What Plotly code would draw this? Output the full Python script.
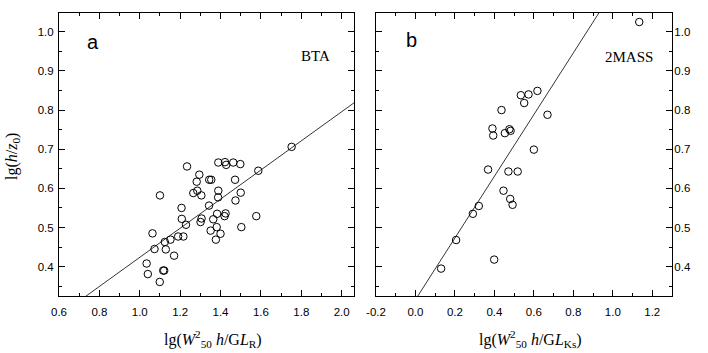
import plotly.graph_objects as go

# ---------------- data ----------------
# Panel a : BTA
bta_x = [1.752, 1.587, 1.234, 1.389, 1.422, 1.428, 1.463, 1.498, 1.295, 1.282,
         1.344, 1.354, 1.472, 1.100, 1.265, 1.285, 1.305, 1.389, 1.388, 1.500,
         1.474, 1.343, 1.207, 1.208, 1.306, 1.301, 1.364, 1.383, 1.420, 1.425,
         1.577, 1.229, 1.381, 1.503, 1.351, 1.400, 1.377, 1.063, 1.190, 1.216,
         1.152, 1.124, 1.073, 1.129, 1.170, 1.034, 1.040, 1.116, 1.121, 1.099]
bta_y = [0.706, 0.645, 0.656, 0.666, 0.667, 0.660, 0.666, 0.662, 0.635, 0.617,
         0.622, 0.622, 0.622, 0.582, 0.588, 0.594, 0.582, 0.594, 0.577, 0.589,
         0.569, 0.556, 0.550, 0.522, 0.523, 0.514, 0.521, 0.535, 0.529, 0.536,
         0.529, 0.507, 0.501, 0.501, 0.492, 0.484, 0.469, 0.485, 0.477, 0.477,
         0.469, 0.463, 0.445, 0.444, 0.428, 0.408, 0.381, 0.390, 0.390, 0.361]

# Panel b : 2MASS
mass_x = [1.134, 0.618, 0.534, 0.573, 0.551, 0.436, 0.669, 0.390, 0.394, 0.453,
          0.476, 0.482, 0.600, 0.368, 0.471, 0.518, 0.446, 0.480, 0.492, 0.321,
          0.291, 0.206, 0.399, 0.130]
mass_y = [1.025, 0.849, 0.838, 0.840, 0.818, 0.800, 0.788, 0.753, 0.735, 0.741,
          0.751, 0.747, 0.699, 0.648, 0.643, 0.643, 0.594, 0.573, 0.558, 0.555,
          0.535, 0.468, 0.418, 0.395]

# regression lines (end points)
fit_a_x = [0.6, 2.1]
fit_a_y = [0.275, 0.833]
fit_b_x = [-0.2, 1.3]
fit_b_y = [0.158, 1.340]

# tick labels
xa_ticks = [0.6, 0.8, 1.0, 1.2, 1.4, 1.6, 1.8, 2.0]
xa_text = ["0.6", "0.8", "1.0", "1.2", "1.4", "1.6", "1.8", "2.0"]
xb_ticks = [-0.2, 0.0, 0.2, 0.4, 0.6, 0.8, 1.0, 1.2]
xb_text = ["-0.2", "0.0", "0.2", "0.4", "0.6", "0.8", "1.0", "1.2"]
y_ticks = [0.4, 0.5, 0.6, 0.7, 0.8, 0.9, 1.0]
y_text = ["0.4", "0.5", "0.6", "0.7", "0.8", "0.9", "1.0"]

# ---------------- figure ----------------
SANS = "Liberation Sans, Arial, sans-serif"
SERIF = "Liberation Serif, Times New Roman, serif"

W, H = 708, 353
L, R, T, B = 59, 672, 13, 296
PW, PH = R - L, B - T


def px(x):
    return (x - L) / PW


def py(y):
    return (B - y) / PH


fig = go.Figure()
marker = dict(symbol="circle-open", size=7.5, color="black", line=dict(width=1, color="black"))

fig.add_trace(go.Scatter(x=bta_x, y=bta_y, mode="markers", marker=marker,
                         xaxis="x", yaxis="y", showlegend=False))
fig.add_trace(go.Scatter(x=fit_a_x, y=fit_a_y, mode="lines",
                         line=dict(color="black", width=0.8),
                         xaxis="x", yaxis="y", showlegend=False))
fig.add_trace(go.Scatter(x=mass_x, y=mass_y, mode="markers", marker=marker,
                         xaxis="x2", yaxis="y2", showlegend=False))
fig.add_trace(go.Scatter(x=fit_b_x, y=fit_b_y, mode="lines",
                         line=dict(color="black", width=0.8),
                         xaxis="x2", yaxis="y2", showlegend=False))

axis_common = dict(
    showline=True, linecolor="black", linewidth=1, mirror="allticks",
    ticks="inside", ticklen=6, tickwidth=1, tickcolor="black",
    showgrid=False, zeroline=False,
    tickfont=dict(family=SANS, size=11.5, color="black"),
)

fig.update_layout(
    width=W, height=H,
    margin=dict(l=L, r=W - R, t=T, b=H - B, pad=0),
    paper_bgcolor="white", plot_bgcolor="white",
    hovermode=False,
    xaxis=dict(domain=[0, px(354)], range=[0.6, 2.061], anchor="y",
               tickmode="array", tickvals=xa_ticks, ticktext=xa_text,
               ticklabelstandoff=5,
               minor=dict(tickmode="linear", tick0=0.6, dtick=0.1, ticks="inside",
                          ticklen=3, tickcolor="black", showgrid=False),
               **axis_common),
    yaxis=dict(domain=[0, 1], range=[0.325, 1.048], anchor="x",
               tickmode="array", tickvals=y_ticks, ticktext=y_text,
               ticklabelstandoff=2,
               minor=dict(tickmode="linear", tick0=0.35, dtick=0.1, ticks="inside",
                          ticklen=3, tickcolor="black", showgrid=False),
               **axis_common),
    xaxis2=dict(domain=[px(376), 1], range=[-0.2, 1.3], anchor="y2",
                tickmode="array", tickvals=xb_ticks, ticktext=xb_text,
                ticklabelstandoff=5,
                minor=dict(tickmode="linear", tick0=-0.2, dtick=0.1, ticks="inside",
                           ticklen=3, tickcolor="black", showgrid=False),
                **axis_common),
    yaxis2=dict(domain=[0, 1], range=[0.325, 1.048], anchor="x2", side="right",
                tickmode="array", tickvals=y_ticks, ticktext=y_text,
                ticklabelstandoff=-1,
                minor=dict(tickmode="linear", tick0=0.35, dtick=0.1, ticks="inside",
                           ticklen=3, tickcolor="black", showgrid=False),
                **axis_common),
)


def label(text, x, y, font, angle=0):
    return dict(text=text, x=px(x), y=py(y), xref="paper", yref="paper",
                xanchor="center", yanchor="middle", textangle=angle,
                showarrow=False, font=font)


sans20 = dict(family=SANS, size=20, color="black")
serif15 = dict(family=SERIF, size=15, color="black")
serif16 = dict(family=SERIF, size=16, color="black")

ann = [
    label("a", 92.5, 42, sans20),
    label("b", 411.5, 40, sans20),
    label("BTA", 315, 56, serif15),
    label("2MASS", 629, 57, serif15),
    label("lg(<i>W</i><sup>2</sup><sub>50</sub> <i>h</i>/G<i>L</i><sub>R</sub>)", 213, 339, serif16),
    label("lg(<i>W</i><sup>2</sup><sub>50</sub> <i>h</i>/G<i>L</i><sub>Ks</sub>)", 530, 339, serif16),
    label("lg(<i>h</i>/<i>z</i><sub>0</sub>)", 12, 157, serif16, angle=-90),
]
fig.update_layout(annotations=ann)

fig.write_html(
    "out.html",
    config={"displayModeBar": False, "staticPlot": True},
    post_script="document.body.style.margin='0';document.body.style.overflow='hidden';",
)
